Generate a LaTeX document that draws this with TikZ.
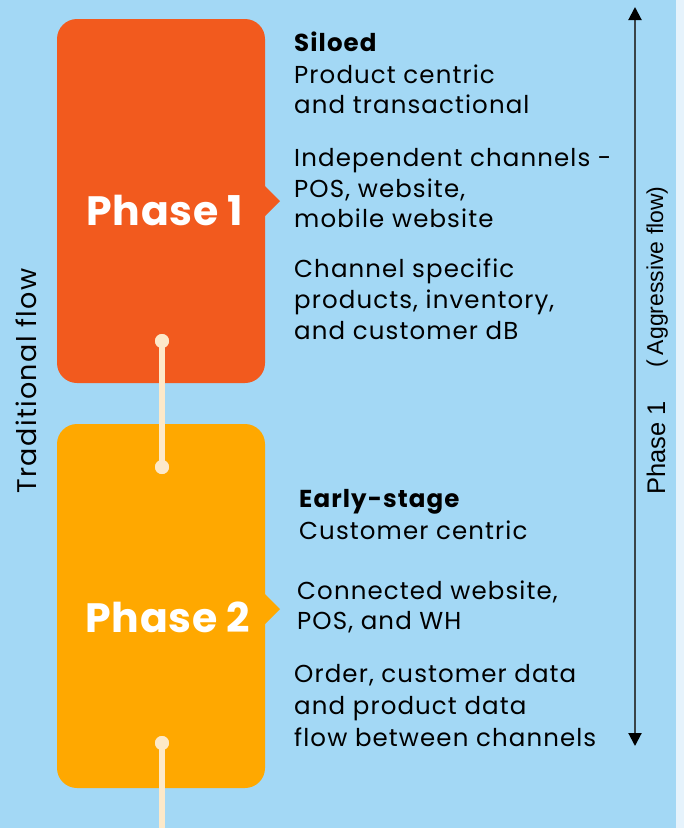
\documentclass[tikz,border=0pt]{standalone}
\usepackage{fontspec}
\setmainfont{Poppins}
\newfontfamily\sidefont{Liberation Sans}
\usetikzlibrary{arrows.meta}
\definecolor{bgblue}{HTML}{A3D8F5}
\definecolor{bgedge}{HTML}{E6F3FC}
\definecolor{phaseone}{HTML}{F25A1E}
\definecolor{phasetwo}{HTML}{FFA800}
\definecolor{cream}{HTML}{FDE9C9}
\definecolor{axisgray}{HTML}{3A4448}
\tikzset{
  phasebox/.style={rounded corners=20pt},
  phaselabel/.style={text=white,font=\fontsize{41}{48}\selectfont\bfseries\addfontfeature{LetterSpace=1.5},inner sep=0pt},
  bodyline/.style={anchor=base west,inner sep=0pt,font=\fontsize{24.5}{30}\selectfont\addfontfeature{LetterSpace=4.5},text=black},
  headline/.style={bodyline,font=\fontsize{24.5}{30}\selectfont\bfseries\addfontfeature{LetterSpace=4.5}},
  sidelabel/.style={rotate=90,anchor=base,inner sep=0pt,font=\sidefont\fontsize{23}{27}\selectfont,text=black},
  linkline/.style={draw=cream,line width=6pt},
  linkdot/.style={circle,fill=cream,inner sep=0pt,minimum size=14pt},
}
\begin{document}
\begin{tikzpicture}[x=1pt,y=-1pt]
\useasboundingbox (0,0) rectangle (684,828);
\fill[bgblue] (0,0) rectangle (684,828);
\fill[bgedge] (676,0) rectangle (684,828);
% boxes
\fill[phaseone,phasebox] (57,19) rectangle (265,383);
\fill[phaseone] (264,185) -- (280,201) -- (264,217) -- cycle;
\fill[phasetwo,phasebox] (57,424) rectangle (265,788);
\fill[phasetwo] (264,593) -- (280,609) -- (264,625) -- cycle;
\node[phaselabel] (p1) at (165,210) {Phase 1};
\node[phaselabel] (p2) at (168,617) {Phase 2};
% connectors
\node[linkdot] (d1) at (162,341) {};
\node[linkdot] (d2) at (162,467) {};
\node[linkdot] (d3) at (162,743) {};
\coordinate (bot) at (162,828);
\draw[linkline] (d1.center) -- (d2.center);
\draw[linkline] (d3.center) -- (bot);
\node[linkdot] at (d1) {};
\node[linkdot] at (d2) {};
\node[linkdot] at (d3) {};
% phase 1 text
\node[headline] (t1) at (294,51) {Siloed};
\node[bodyline] (t2) at (294,83) {Product centric};
\node[bodyline] (t3) at (294,113) {and transactional};
\node[bodyline] (t4) at (294,166) {Independent channels -};
\node[bodyline] (t5) at (294,197) {POS, website,};
\node[bodyline] (t6) at (294,227) {mobile website};
\node[bodyline] (t7) at (294,277) {Channel specific};
\node[bodyline] (t8) at (294,308) {products, inventory,};
\node[bodyline] (t9) at (294,339) {and customer dB};
% phase 2 text
\node[headline] (u1) at (299,507) {Early-stage};
\node[bodyline] (u2) at (299,539) {Customer centric};
\node[bodyline] (u3) at (297,599) {Connected website,};
\node[bodyline] (u4) at (297,629) {POS, and WH};
\node[bodyline] (u5) at (294,682) {Order, customer data};
\node[bodyline] (u6) at (294,714) {and product data};
\node[bodyline] (u7) at (294,746) {flow between channels};
% axis
\coordinate (atop) at (635,7);
\coordinate (abot) at (635,746);
\draw[axisgray,line width=2pt,{Triangle[length=13pt,width=13pt,color=black]}-{Triangle[length=13pt,width=13pt,color=black]}] (abot) -- (atop);
\node[sidelabel,font=\sidefont\fontsize{25.5}{30}\selectfont] (s1) at (665,448) {Phase 1};
\node[sidelabel] (s2) at (663,277) {(\hspace{5pt}Aggressive flow)};
\node[sidelabel,font=\fontsize{27}{32}\selectfont\addfontfeature{LetterSpace=5}] (s3) at (36,381) {Traditional flow};
\end{tikzpicture}
\end{document}
